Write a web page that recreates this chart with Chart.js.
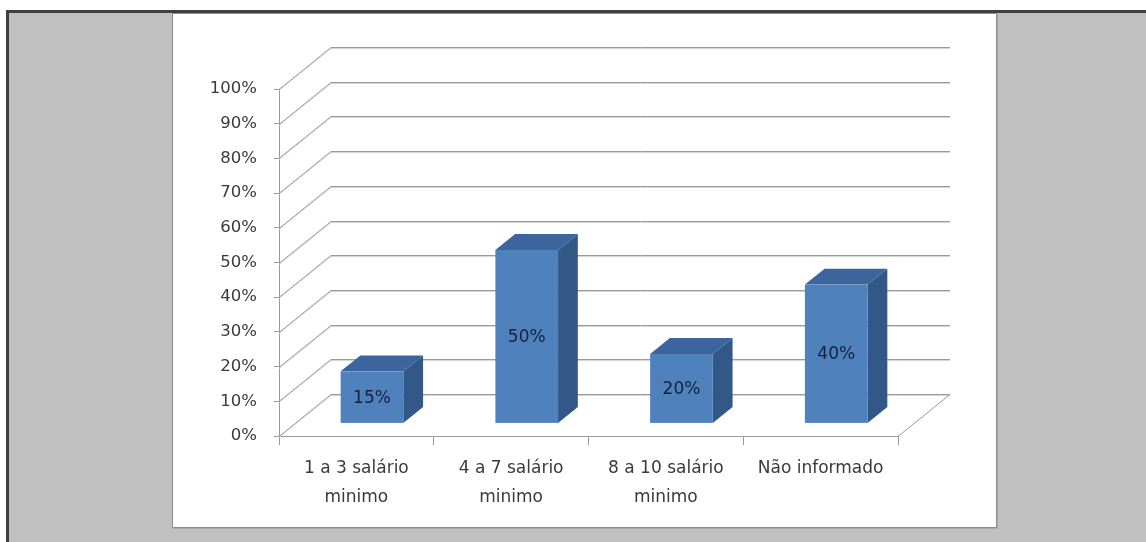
<!DOCTYPE html>
<html>
<head>
<meta charset="utf-8">
<script src="https://cdn.jsdelivr.net/npm/chart.js@4/dist/chart.umd.min.js"></script>
<style>
  html, body { margin: 0; padding: 0; background: #fff; width: 1146px; height: 542px; overflow: hidden; }
  #moldura {
    position: absolute; left: 6px; top: 10px; width: 1160px; height: 560px;
    border-left: 3px solid #404040; border-top: 3px solid #404040;
    background: #c0c0c0;
  }
  #caixa {
    position: absolute; left: 172px; top: 13px; width: 823px; height: 513px;
    background: #fff; border: 1px solid #8c8c8c;
    box-shadow: 1px 1px 0 #a8a8a8;
  }
  #grafico { position: absolute; left: 0; top: 0; }
</style>
</head>
<body>
<div id="moldura"></div>
<div id="caixa"></div>
<canvas id="grafico" width="1146" height="542"></canvas>
<script>
// faixas de renda e percentual de respostas
var categorias = [['1 a 3 salário', 'minimo'], ['4 a 7 salário', 'minimo'], ['8 a 10 salário', 'minimo'], 'Não informado']
var percentuais = [15, 50, 20, 40]
var escalaMax = 100
var escalaPasso = 10

// profundidade do piso 3d (fundo em relação à frente)
var DX = 52, DY = 42
// onde a coluna começa e quanto ela ocupa na profundidade
var FRENTE = 0.3, ESPESSURA = 0.38

var corLinha = '#9a9a9a'
var corSombra = '#d6d6d6'

function linha(ctx, pts, cor) {
  ctx.beginPath()
  ctx.moveTo(pts[0][0], pts[0][1])
  for (var i = 1; i < pts.length; i++) ctx.lineTo(pts[i][0], pts[i][1])
  ctx.strokeStyle = cor
  ctx.stroke()
}

function poligono(ctx, pts, cor) {
  ctx.beginPath()
  ctx.moveTo(pts[0][0], pts[0][1])
  for (var i = 1; i < pts.length; i++) ctx.lineTo(pts[i][0], pts[i][1])
  ctx.closePath()
  ctx.fillStyle = cor
  ctx.fill()
}

// paredes: linhas de grade no fundo + diagonais da parede esquerda
var paredes = {
  id: 'paredes',
  beforeDatasetsDraw(chart) {
    var ctx = chart.ctx, a = chart.chartArea, y = chart.scales.y
    ctx.save()
    ctx.lineWidth = 1
    y.ticks.forEach(function (t) {
      var py = Math.round(y.getPixelForValue(t.value)) + 0.5
      linha(ctx, [[a.left, py + 1], [a.left + DX, py - DY + 1], [a.right + DX, py - DY + 1]], corSombra)
      linha(ctx, [[a.left, py], [a.left + DX, py - DY], [a.right + DX, py - DY]], corLinha)
    })
    // borda direita do piso
    linha(ctx, [[a.right, a.bottom + 0.5], [a.right + DX, a.bottom - DY + 0.5]], corLinha)
    ctx.restore()
  }
}

// colunas 3d desenhadas a partir da geometria das barras do chart.js
var colunas3d = {
  id: 'colunas3d',
  afterDatasetsDraw(chart) {
    var ctx = chart.ctx
    var meta = chart.getDatasetMeta(0)
    var ox = DX * FRENTE, oy = DY * FRENTE
    var dx = DX * ESPESSURA, dy = DY * ESPESSURA
    ctx.save()
    meta.data.forEach(function (bar, i) {
      var p = bar.getProps(['x', 'y', 'base', 'width'], true)
      var l = p.x - p.width / 2 + ox, r = p.x + p.width / 2 + ox
      var t = p.y - oy, b = p.base - oy
      poligono(ctx, [[r, t], [r + dx, t - dy], [r + dx, b - dy], [r, b]], '#325887')
      poligono(ctx, [[l, t], [l + dx, t - dy], [r + dx, t - dy], [r, t]], '#3b659c')
      ctx.fillStyle = '#4f81bd'
      ctx.fillRect(l, t, r - l, b - t)

      ctx.fillStyle = '#16203a'
      ctx.font = '17px "DejaVu Sans"'
      ctx.textAlign = 'center'
      ctx.textBaseline = 'middle'
      ctx.fillText(percentuais[i] + '%', (l + r) / 2, (t + b) / 2 + 1)
    })
    ctx.restore()
  }
}

var ctx = document.getElementById('grafico')
var rendaChart = new Chart(ctx, {
  type: 'bar',
  data: {
    labels: categorias,
    datasets: [{
      data: percentuais,
      backgroundColor: 'rgba(0,0,0,0)',
      borderWidth: 0,
      barPercentage: 0.405,
      categoryPercentage: 1
    }]
  },
  options: {
    responsive: false,
    animation: false,
    events: [],
    layout: { padding: { left: 179, right: 248, top: 89, bottom: 26 } },
    plugins: { legend: { display: false }, tooltip: { enabled: false } },
    scales: {
      x: {
        afterFit: function (s) { s.height = 80 },
        grid: { drawOnChartArea: false, tickLength: 9, color: corLinha },
        border: { color: corLinha },
        ticks: {
          color: '#3a3a3a', padding: 9,
          font: { family: 'DejaVu Sans', size: 17, lineHeight: 1.7 },
          maxRotation: 0
        }
      },
      y: {
        min: 0, max: escalaMax,
        afterFit: function (s) { s.width = 100 },
        grid: { drawOnChartArea: false, tickLength: 5, color: corLinha },
        border: { color: corLinha },
        ticks: {
          stepSize: escalaPasso, color: '#3a3a3a', padding: 17,
          font: { family: 'DejaVu Sans', size: 16.5 },
          callback: function (v) { return v + '%' }
        }
      }
    }
  },
  plugins: [paredes, colunas3d]
})
</script>
</body>
</html>
